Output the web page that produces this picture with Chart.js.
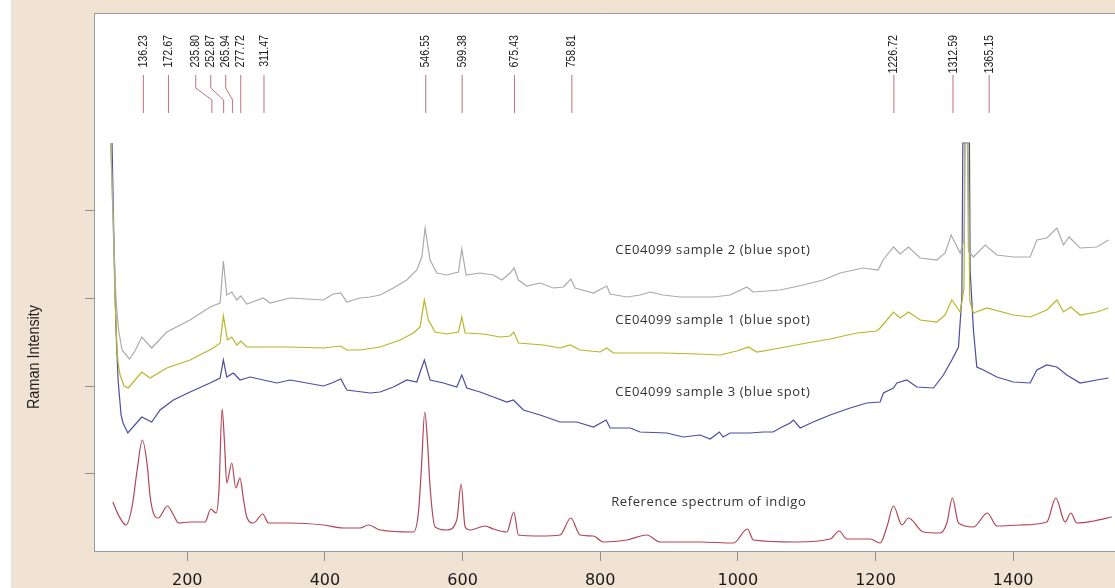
<!DOCTYPE html>
<html>
<head>
<meta charset="utf-8">
<script src="https://cdn.jsdelivr.net/npm/chart.js@4.4.1/dist/chart.umd.min.js"></script>
<style>
  html, body { margin: 0; padding: 0; background: #ffffff; }
  #wrap { width: 1115px; height: 588px; }
</style>
</head>
<body>
<div id="wrap"><canvas id="c" width="1115" height="588"></canvas></div>
<script>
// ---------- DATA (wavenumber cm-1 / relative Raman intensity, arbitrary units) ----------
const xTicks = [200, 400, 600, 800, 1000, 1200, 1400];
const yTicks = [78, 165, 253, 340];

const peaks = [136.23, 172.67, 235.80, 252.87, 265.94, 277.72, 311.47, 546.55, 599.38, 675.43, 758.81, 1226.72, 1312.59, 1365.15];
const peakLabels = ["136.23", "172.67", "235.80", "252.87", "265.94", "277.72", "311.47", "546.55", "599.38", "675.43", "758.81", "1226.72", "1312.59", "1365.15"];

const seriesNames = ["CE04099 sample 2 (blue spot)", "CE04099 sample 1 (blue spot)", "CE04099 sample 3 (blue spot)", "Reference spectrum of indigo"];
const nameX = [822, 822, 822, 816];
const nameY = [301, 231, 159, 49];

const sample2X = [88.9, 91.5, 93.7, 96.5, 100.2, 105.3, 115.9, 124, 133.9, 148.4, 170.2, 204.1, 233.1, 247.7, 252.5, 257.4, 264.7, 271.9, 277.8, 286.5, 310.6, 320.3, 349.4, 397.8, 412, 423.1, 431.8, 451.1, 465.7, 480.2, 499.5, 519.0, 533.5, 540.8, 545.6, 552.8, 562.6, 577.1, 594.0, 598.9, 605.2, 625.5, 644.8, 657.0, 669.1, 674.9, 681.2, 693.3, 712.7, 732.0, 746.5, 757.3, 763.5, 790.1, 809.6, 814.4, 838.7, 858.0, 872.5, 891.4, 916.1, 964.1, 988.8, 1013.0, 1022.2, 1061.4, 1094.8, 1123.9, 1148.6, 1182.0, 1203.8, 1211.1, 1226.1, 1235.8, 1247.9, 1264.9, 1289.1, 1301.2, 1309.9, 1323.0, 1328.5, 1329.5, 1333.5, 1335, 1342.3, 1359.3, 1376.3, 1400.4, 1424.7, 1434.4, 1448.9, 1463.5, 1473.1, 1481.3, 1497.3, 1521.6, 1538.4];
const sample2Y = [408, 351, 301, 251, 221, 201, 192, 200, 214, 203, 219, 231, 244, 248, 290, 256, 259, 251, 255, 247, 253, 248, 253, 251, 257, 258, 249, 253, 254, 256, 263, 271, 281, 294, 323, 291, 278, 276, 279, 302, 276, 278, 276, 271, 278, 283, 271, 265, 268, 263, 264, 272, 263, 258, 265, 257, 254, 256, 259, 256, 254, 254, 256, 264, 259, 261, 266, 271, 278, 283, 281, 291, 304, 297, 304, 293, 291, 298, 316, 298, 310, 408, 408, 300, 294, 306, 296, 294, 294, 311, 313, 323, 306, 314, 303, 304, 311];

const sample1X = [88.9, 92.2, 95.1, 98.0, 99.5, 102.4, 108.2, 114.4, 133.9, 146.0, 170.2, 204.1, 237.9, 247.7, 252.5, 258.3, 264.7, 271.9, 277.8, 286.5, 349.4, 397.8, 423.1, 431.8, 451.1, 480.2, 509.2, 528.6, 538.3, 544.5, 550.4, 560.1, 577.1, 594.0, 598.9, 603.7, 630.3, 654.6, 669.1, 674.5, 681.2, 717.5, 741.7, 756.3, 770.8, 799.9, 809.6, 819.2, 858.0, 891.4, 940.8, 974.2, 998.5, 1015.4, 1027.6, 1061.4, 1100.2, 1134.1, 1172.9, 1201.9, 1206.7, 1216.5, 1226.1, 1235.8, 1247.9, 1264.9, 1289.1, 1301.2, 1310.9, 1323.0, 1328.5, 1330.3, 1334.6, 1337.0, 1342.3, 1361.8, 1400.4, 1424.7, 1448.9, 1463.5, 1473.1, 1483.8, 1497.3, 1521.6, 1538.4];
const sample1Y = [408, 331, 251, 201, 188, 176, 165, 163, 179, 173, 183, 191, 203, 208, 235, 211, 214, 206, 210, 204, 204, 203, 205, 201, 201, 204, 211, 218, 224, 251, 231, 219, 217, 219, 234, 218, 217, 214, 215, 219, 208, 206, 203, 206, 201, 199, 203, 198, 198, 198, 197, 196, 200, 204, 199, 203, 208, 212, 218, 220, 223, 231, 239, 233, 239, 231, 229, 236, 251, 239, 262, 408, 408, 250, 238, 243, 236, 234, 241, 251, 239, 244, 236, 239, 243];

const sample3X = [90.7, 93.7, 96.5, 99.5, 103.8, 106.7, 113.6, 133.9, 148.4, 160.5, 179.8, 204.1, 233.1, 247.7, 252.5, 257.4, 267.0, 276.7, 291.3, 310.6, 330.1, 349.4, 397.8, 410, 423.1, 431.8, 465.7, 480.2, 499.5, 519.0, 533.5, 544.5, 552.8, 572.2, 591.6, 598.9, 606.2, 625.5, 644.8, 664.3, 673.9, 688.4, 712.7, 741.7, 766.0, 790.1, 808.6, 814.4, 843.5, 858.0, 896.8, 920.5, 945.2, 959.7, 973.2, 978.6, 988.8, 1017.8, 1036.7, 1051.3, 1061.4, 1076.0, 1080.8, 1090.5, 1109.4, 1134.1, 1163.1, 1187.4, 1206.7, 1211.5, 1226.1, 1231.0, 1245.5, 1260.1, 1284.3, 1298.7, 1310.9, 1320.6, 1325.5, 1326.9, 1336.5, 1337.5, 1342.3, 1347.2, 1356.8, 1376.3, 1400.4, 1424.7, 1434.4, 1448.9, 1463.5, 1478.0, 1497.3, 1521.6, 1538.4];
const sample3Y = [408, 301, 221, 171, 136, 128, 118, 134, 129, 141, 151, 159, 168, 173, 191, 174, 178, 171, 174, 171, 168, 171, 165, 168, 172, 161, 158, 159, 164, 171, 169, 191, 171, 168, 164, 176, 163, 159, 154, 149, 151, 141, 136, 129, 129, 124, 131, 123, 123, 119, 118, 114, 116, 112, 119, 114, 118, 118, 119, 119, 123, 128, 131, 123, 129, 136, 143, 148, 149, 158, 163, 168, 171, 164, 163, 176, 191, 204, 254, 408, 408, 281, 221, 184, 181, 174, 169, 168, 181, 186, 184, 176, 168, 171, 173];

const referenceX = [91.8, 100, 111, 120, 127, 134.8, 142, 146, 150.8, 158.0, 171.1, 180, 187.1, 204.1, 225.9, 234.2, 241.9, 246, 250.6, 254, 257.4, 264.7, 270.5, 276.7, 281, 286.5, 296.1, 309.7, 317.9, 349.4, 397.8, 426.9, 451.1, 463.2, 480.2, 528.6, 535.8, 540, 545.1, 549, 552.8, 560.1, 577.1, 591.6, 597.9, 603.7, 611.0, 632.8, 644.8, 664.3, 674.5, 681.2, 712.7, 741.7, 757.3, 770.8, 790.1, 804.7, 838.7, 867.7, 887.0, 945.2, 993.6, 1013.9, 1022.6, 1085.7, 1134.1, 1147.2, 1158.3, 1192.2, 1206.7, 1216.5, 1226.1, 1238.3, 1247.9, 1269.7, 1293.9, 1303.7, 1311.8, 1320.6, 1342.3, 1362.6, 1376.3, 1410.2, 1448.9, 1462.0, 1475.5, 1483.8, 1492.5, 1516.7, 1543.4];
const referenceY = [49, 36, 26, 45, 80, 111, 85, 55, 38, 33, 45, 36, 28, 29, 29, 42, 38, 60, 142, 110, 68, 88, 63, 73, 55, 34, 28, 37, 28, 28, 26, 23, 23, 26, 21, 19, 38, 80, 139, 110, 64, 24, 21, 31, 67, 24, 21, 25, 22, 19, 39, 16, 15, 16, 33, 16, 15, 9, 11, 16, 9, 9, 8, 22, 11, 9, 12, 20, 12, 12, 8, 24, 45, 26, 33, 19, 18, 28, 53, 28, 24, 38, 25, 26, 29, 53, 29, 38, 28, 30, 34];

// ---------- CHART ----------
const pts = (xs, ys) => xs.map((x, i) => ({ x: x, y: ys[i] }));

const frame = {
  id: 'frame',
  beforeDraw(chart) {
    const { ctx, chartArea: a, width, height } = chart;
    ctx.save();
    ctx.fillStyle = '#f0e3d4';
    ctx.fillRect(0, 0, width, height);
    ctx.fillStyle = '#ffffff';
    ctx.fillRect(0, 0, 11, height);
    ctx.fillRect(a.left, a.top, a.right - a.left, a.bottom - a.top);
    ctx.strokeStyle = '#9a9a9a';
    ctx.lineWidth = 1;
    ctx.beginPath();
    ctx.moveTo(a.left, a.top + 0.5);
    ctx.lineTo(a.right, a.top + 0.5);
    ctx.stroke();
    ctx.restore();
  },
  afterDraw(chart) {
    const { ctx } = chart;
    ctx.save();
    ctx.translate(35, 357);
    ctx.rotate(-Math.PI / 2);
    ctx.scale(0.9, 1);
    ctx.fillStyle = '#222222';
    ctx.font = '16px "Liberation Sans", Arial, sans-serif';
    ctx.textAlign = 'center';
    ctx.textBaseline = 'middle';
    ctx.fillText('Raman Intensity', 0, 0);
    ctx.restore();
  }
};

const annot = {
  id: 'annot',
  afterDatasetsDraw(chart) {
    const { ctx } = chart;
    const xs = chart.scales.x, ys = chart.scales.y;
    const px = peaks.map(p => xs.getPixelForValue(p));
    const lx = px.slice();
    for (let i = lx.length - 2; i >= 0; i--) lx[i] = Math.min(lx[i], lx[i + 1] - 15);
    const yTop = ys.getPixelForValue(476), yB1 = ys.getPixelForValue(463),
          yB2 = ys.getPixelForValue(451), yBot = ys.getPixelForValue(438),
          yText = ys.getPixelForValue(516);
    ctx.save();
    ctx.strokeStyle = '#c0727c';
    ctx.lineWidth = 1;
    for (let i = 0; i < px.length; i++) {
      ctx.beginPath();
      if (Math.abs(lx[i] - px[i]) < 0.5) {
        ctx.moveTo(px[i], yTop); ctx.lineTo(px[i], yBot);
      } else {
        ctx.moveTo(lx[i], yTop); ctx.lineTo(lx[i], yB1);
        ctx.lineTo(px[i], yB2); ctx.lineTo(px[i], yBot);
      }
      ctx.stroke();
    }
    ctx.fillStyle = '#222222';
    ctx.font = '13px "Liberation Sans", Arial, sans-serif';
    ctx.textAlign = 'right';
    ctx.textBaseline = 'middle';
    for (let i = 0; i < px.length; i++) {
      ctx.save();
      ctx.translate(lx[i], yText);
      ctx.rotate(-Math.PI / 2);
      ctx.scale(0.82, 1);
      ctx.fillText(peakLabels[i], 0, 0);
      ctx.restore();
    }
    ctx.font = '13px "Open Sans", "DejaVu Sans", sans-serif';
    ctx.fillStyle = '#333333';
    ctx.textAlign = 'left';
    try { ctx.letterSpacing = '0.6px'; } catch (e) {}
    for (let i = 0; i < seriesNames.length; i++) {
      ctx.fillText(seriesNames[i], xs.getPixelForValue(nameX[i]), ys.getPixelForValue(nameY[i]));
    }
    ctx.restore();
  }
};

new Chart(document.getElementById('c'), {
  type: 'line',
  data: {
    datasets: [
      { label: seriesNames[0], data: pts(sample2X, sample2Y), borderColor: '#ababab', borderWidth: 1.2, pointRadius: 0, tension: 0 },
      { label: seriesNames[1], data: pts(sample1X, sample1Y), borderColor: '#b8b628', borderWidth: 1.2, pointRadius: 0, tension: 0 },
      { label: seriesNames[2], data: pts(sample3X, sample3Y), borderColor: '#4b4ca2', borderWidth: 1.2, pointRadius: 0, tension: 0 },
      { label: seriesNames[3], data: pts(referenceX, referenceY), borderColor: '#b24652', borderWidth: 1.2, pointRadius: 0, cubicInterpolationMode: 'monotone' }
    ]
  },
  options: {
    responsive: false,
    animation: false,
    devicePixelRatio: 1,
    layout: { padding: { top: 13, left: 0, right: 0, bottom: 0 } },
    plugins: { legend: { display: false }, tooltip: { enabled: false } },
    scales: {
      x: {
        type: 'linear', min: 64.5, max: 1548,
        afterBuildTicks: s => { s.ticks = xTicks.map(v => ({ value: v })); },
        afterFit: s => { s.height = 37; },
        grid: { display: true, drawOnChartArea: false, drawTicks: true, tickLength: 10, color: '#8f8f8f' },
        border: { display: true, color: '#9a9a9a' },
        ticks: { color: '#1a1a1a', padding: 10, maxRotation: 0, callback: v => String(v), font: { family: '"DejaVu Sans", Verdana, sans-serif', size: 16 } }
      },
      y: {
        type: 'linear', min: 0, max: 538,
        afterBuildTicks: s => { s.ticks = yTicks.map(v => ({ value: v })); },
        afterFit: s => { s.width = 94; },
        grid: { display: true, drawOnChartArea: false, drawTicks: true, tickLength: 9, color: '#8f8f8f' },
        border: { display: true, color: '#9a9a9a' },
        ticks: { display: false }
      }
    }
  },
  plugins: [frame, annot]
});
</script>
</body>
</html>
